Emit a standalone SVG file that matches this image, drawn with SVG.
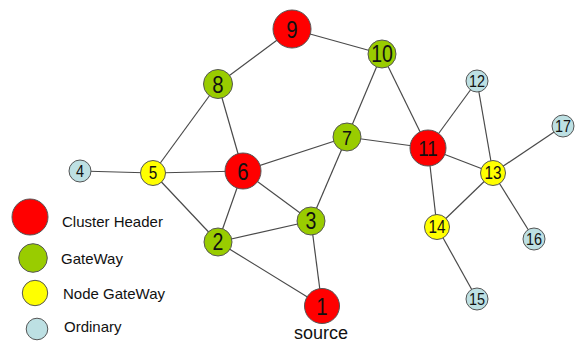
<svg xmlns="http://www.w3.org/2000/svg" width="578" height="342" viewBox="0 0 578 342">
<style>
.edge{stroke:#4a4a4a;stroke-width:1.2;fill:none}
.nd{stroke:#555;stroke-width:1}
.ch{fill:#ff0000}
.gw{fill:#99cc00}
.ng{fill:#ffff00}
.or{fill:#bde0e3}
.lbl{font-family:"Liberation Sans",Arial,sans-serif;fill:#111;text-anchor:middle}
.lg{font-family:"Liberation Sans",Arial,sans-serif;font-size:15px;fill:#111}
</style>
<rect width="578" height="342" fill="#fff"/>
<g id="connectors">
<line class="edge" x1="292" y1="29" x2="218" y2="84"/>
<line class="edge" x1="292" y1="29" x2="382" y2="54"/>
<line class="edge" x1="218" y1="84" x2="153" y2="173"/>
<line class="edge" x1="218" y1="84" x2="243" y2="171"/>
<line class="edge" x1="80" y1="171" x2="153" y2="173"/>
<line class="edge" x1="153" y1="173" x2="243" y2="171"/>
<line class="edge" x1="153" y1="173" x2="218" y2="242"/>
<line class="edge" x1="243" y1="171" x2="218" y2="242"/>
<line class="edge" x1="243" y1="171" x2="311" y2="221"/>
<line class="edge" x1="243" y1="171" x2="347" y2="137"/>
<line class="edge" x1="347" y1="137" x2="382" y2="54"/>
<line class="edge" x1="347" y1="137" x2="311" y2="221"/>
<line class="edge" x1="347" y1="137" x2="428" y2="148"/>
<line class="edge" x1="382" y1="54" x2="428" y2="148"/>
<line class="edge" x1="428" y1="148" x2="477" y2="81"/>
<line class="edge" x1="428" y1="148" x2="493" y2="173"/>
<line class="edge" x1="428" y1="148" x2="437" y2="227"/>
<line class="edge" x1="477" y1="81" x2="493" y2="173"/>
<line class="edge" x1="493" y1="173" x2="563" y2="126"/>
<line class="edge" x1="493" y1="173" x2="437" y2="227"/>
<line class="edge" x1="493" y1="173" x2="534" y2="239"/>
<line class="edge" x1="437" y1="227" x2="477" y2="299"/>
<line class="edge" x1="311" y1="221" x2="218" y2="242"/>
<line class="edge" x1="311" y1="221" x2="322" y2="306"/>
<line class="edge" x1="218" y1="242" x2="322" y2="306"/>
</g>
<g id="n1"><circle class="nd ch" cx="322" cy="306" r="17.5"/><text class="lbl" font-size="24" transform="translate(322,314.5) scale(0.85,1)">1</text></g>
<g id="n2"><circle class="nd gw" cx="218" cy="242" r="14"/><text class="lbl" font-size="23" transform="translate(218,250.2) scale(0.85,1)">2</text></g>
<g id="n3"><circle class="nd gw" cx="311" cy="221" r="14"/><text class="lbl" font-size="23" transform="translate(311,229.2) scale(0.85,1)">3</text></g>
<g id="n4"><circle class="nd or" cx="80" cy="171" r="11"/><text class="lbl" font-size="17" transform="translate(80,177.1) scale(0.85,1)">4</text></g>
<g id="n5"><circle class="nd ng" cx="153" cy="173" r="12.5"/><text class="lbl" font-size="18" transform="translate(153,179.4) scale(0.85,1)">5</text></g>
<g id="n6"><circle class="nd ch" cx="243" cy="171" r="18"/><text class="lbl" font-size="24" transform="translate(243,179.6) scale(0.85,1)">6</text></g>
<g id="n7"><circle class="nd gw" cx="347" cy="137" r="14"/><text class="lbl" font-size="21" transform="translate(347,144.5) scale(0.85,1)">7</text></g>
<g id="n8"><circle class="nd gw" cx="218" cy="84" r="14.5"/><text class="lbl" font-size="24" transform="translate(218,92.6) scale(0.85,1)">8</text></g>
<g id="n9"><circle class="nd ch" cx="292" cy="29" r="19"/><text class="lbl" font-size="24" transform="translate(292,37.6) scale(0.85,1)">9</text></g>
<g id="n10"><circle class="nd gw" cx="382" cy="54" r="14"/><text class="lbl" font-size="23" transform="translate(382,62.2) scale(0.85,1)">10</text></g>
<g id="n11"><circle class="nd ch" cx="428" cy="148" r="18"/><text class="lbl" font-size="22" transform="translate(428,155.9) scale(0.85,1)">11</text></g>
<g id="n12"><circle class="nd or" cx="477" cy="81" r="11"/><text class="lbl" font-size="17" transform="translate(477,87.1) scale(0.85,1)">12</text></g>
<g id="n13"><circle class="nd ng" cx="493" cy="173" r="12.5"/><text class="lbl" font-size="18" transform="translate(493,179.4) scale(0.85,1)">13</text></g>
<g id="n14"><circle class="nd ng" cx="437" cy="227" r="12.5"/><text class="lbl" font-size="18" transform="translate(437,233.4) scale(0.85,1)">14</text></g>
<g id="n15"><circle class="nd or" cx="477" cy="299" r="11"/><text class="lbl" font-size="17" transform="translate(477,305.1) scale(0.85,1)">15</text></g>
<g id="n16"><circle class="nd or" cx="534" cy="239" r="11"/><text class="lbl" font-size="17" transform="translate(534,245.1) scale(0.85,1)">16</text></g>
<g id="n17"><circle class="nd or" cx="563" cy="126" r="11"/><text class="lbl" font-size="17" transform="translate(563,132.1) scale(0.85,1)">17</text></g>
<text class="lbl" font-size="18" x="321" y="339">source</text>
<g id="legend">
<circle class="nd ch" cx="30" cy="217" r="18"/><text class="lg" x="62" y="227">Cluster Header</text>
<circle class="nd gw" cx="33" cy="258" r="14.3"/><text class="lg" x="61" y="264">GateWay</text>
<circle class="nd ng" cx="35" cy="293" r="12.7"/><text class="lg" x="63" y="299">Node GateWay</text>
<circle class="nd or" cx="37" cy="329" r="10.8"/><text class="lg" x="64" y="332">Ordinary</text>
</g>
</svg>
